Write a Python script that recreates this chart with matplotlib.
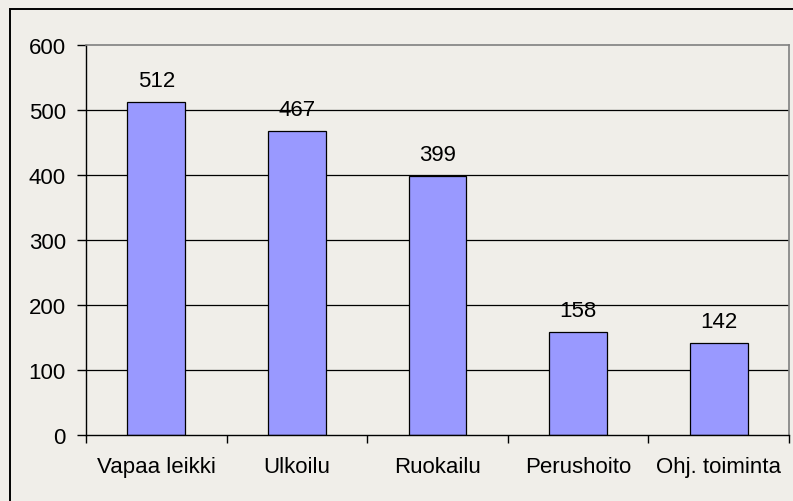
import matplotlib
matplotlib.use("Agg")
import matplotlib.pyplot as plt
from matplotlib.patches import Rectangle
from matplotlib.ticker import FixedLocator

categories = ["Vapaa leikki", "Ulkoilu", "Ruokailu", "Perushoito", "Ohj. toiminta"]
values = [512, 467, 399, 158, 142]
yticks = [0, 100, 200, 300, 400, 500, 600]

bg = "#F0EEE9"
bar_color = "#9999FF"

plt.rcParams["font.family"] = ["Liberation Sans", "DejaVu Sans"]

fig = plt.figure(figsize=(7.93, 5.02), dpi=100, facecolor=bg)
ax = fig.add_axes([86/793, 1-436/502, (789-86)/793, (436-46)/502])
ax.set_facecolor(bg)

# outer chart border
fig.patches.append(Rectangle((10/793, -0.1), 1.2, 1 - 10/502 + 0.1,
                             transform=fig.transFigure, fill=False,
                             edgecolor="black", linewidth=1.4, zorder=0))

x = list(range(len(categories)))
ax.bar(x, values, width=0.41, color=bar_color, edgecolor="black",
       linewidth=0.9, zorder=3)

for xi, v in zip(x, values):
    ax.annotate(str(v), (xi, v), xytext=(0, 11.5), textcoords="offset points",
                ha="center", va="baseline", fontsize=16, color="black", zorder=4)

ax.set_xlim(-0.5, len(categories) - 0.5)
ax.set_ylim(0, 600)
ax.set_yticks(yticks)
ax.set_yticklabels([str(t) for t in yticks], fontsize=16)

ax.set_xticks(x)
ax.set_xticklabels(categories, fontsize=16)
ax.xaxis.set_minor_locator(FixedLocator([i + 0.5 for i in range(-1, len(categories))]))
ax.tick_params(axis="x", which="major", length=0, pad=15)
ax.tick_params(axis="x", which="minor", length=5.5, width=1, direction="out", color="black")
ax.tick_params(axis="y", which="major", length=6.5, width=1, direction="out", pad=8, color="black")

for t in yticks[1:-1]:
    ax.axhline(t, color="black", linewidth=0.9, zorder=1)

ax.spines["left"].set_color("black")
ax.spines["left"].set_linewidth(1.0)
ax.spines["bottom"].set_color("black")
ax.spines["bottom"].set_linewidth(1.0)
ax.spines["bottom"].set_zorder(5)
ax.spines["top"].set_color("#808080")
ax.spines["top"].set_linewidth(1.2)
ax.spines["right"].set_color("#808080")
ax.spines["right"].set_linewidth(1.2)

fig.savefig("out.png", dpi=100, facecolor=bg)
